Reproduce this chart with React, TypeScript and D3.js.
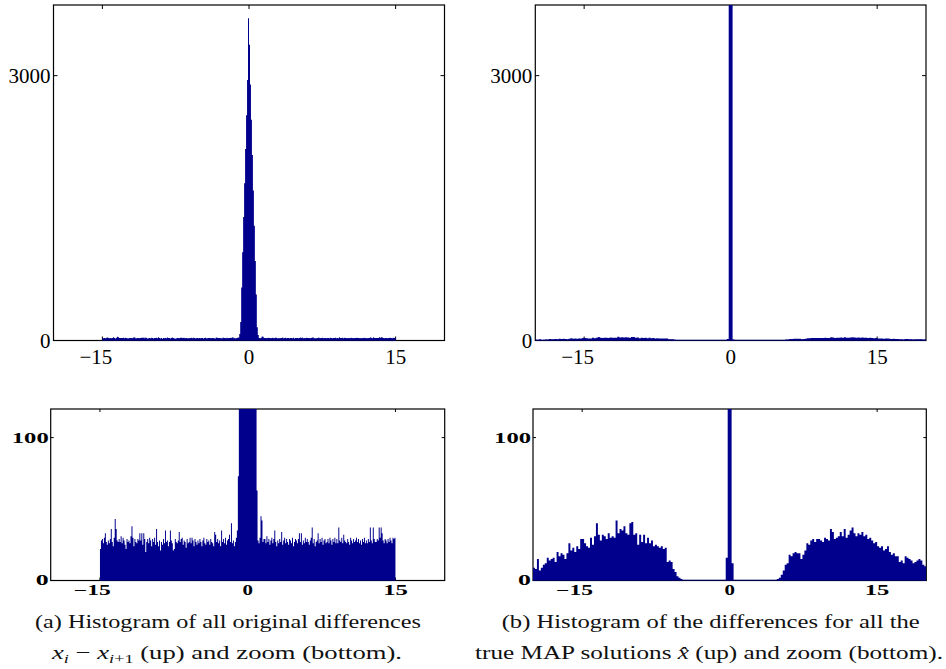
import React from 'react';
import * as d3 from 'd3';

// ---------- data ----------
// (a) original differences: bins of width 0.1 from -15 to 15
const binStartA = -15;
const binWidthA = 0.1;
const countsA: number[] = [
  22, 28, 29, 26, 30, 33, 27, 25, 28, 26,
  29, 36, 27, 24, 30, 43, 36, 28, 27, 29,
  27, 31, 26, 30, 28, 25, 22, 29, 27, 28,
  26, 31, 38, 30, 24, 29, 27, 26, 29, 28,
  33, 28, 33, 25, 33, 29, 20, 27, 29, 26,
  30, 28, 24, 29, 27, 30, 25, 36, 27, 24,
  28, 21, 27, 25, 29, 26, 35, 27, 28, 24,
  27, 35, 28, 26, 21, 22, 29, 27, 26, 28,
  34, 27, 29, 30, 25, 28, 27, 23, 29, 26,
  27, 30, 26, 30, 28, 24, 29, 27, 25, 28,
  26, 29, 27, 24, 28, 30, 26, 25, 29, 27,
  28, 25, 29, 27, 26, 24, 34, 32, 27, 29,
  26, 28, 24, 35, 27, 29, 26, 30, 25, 28,
  29, 32, 27, 40, 26, 28, 24, 27, 30, 35,
  73, 210, 600, 1000, 1400, 1780, 2170, 2550, 2950, 3650,
  3350, 2900, 2500, 2100, 1700, 1300, 900, 520, 150, 63,
  28, 26, 30, 45, 42, 27, 29, 29, 26, 31,
  27, 29, 25, 28, 30, 26, 29, 35, 27, 24,
  28, 26, 29, 27, 34, 25, 28, 30, 26, 29,
  27, 25, 29, 28, 26, 30, 24, 27, 29, 28,
  26, 29, 33, 27, 33, 25, 28, 26, 30, 27,
  29, 27, 25, 28, 30, 37, 26, 29, 24, 27,
  28, 33, 26, 29, 27, 30, 25, 28, 29, 26,
  27, 29, 26, 30, 28, 25, 29, 27, 30, 26,
  29, 26, 37, 28, 27, 30, 26, 32, 28, 27,
  26, 29, 27, 25, 30, 28, 26, 29, 27, 28,
  30, 27, 29, 26, 28, 25, 29, 27, 30, 26,
  28, 26, 29, 27, 37, 28, 26, 37, 29, 27,
  27, 29, 28, 37, 30, 37, 33, 28, 26, 29,
  28, 26, 29, 27, 30, 28, 26, 30, 29, 30,
];

// (b) MAP solutions: bins of width 0.2 from -20 to 20
const binStartB = -20;
const binWidthB = 0.2;
const countsB: number[] = [
  9, 8, 15, 7, 9,
  11, 12, 16, 14, 15,
  16, 13, 20, 17, 19,
  18, 15, 19, 26, 21,
  23, 20, 24, 22, 29,
  29, 26, 24, 23, 30,
  25, 31, 40, 32, 28,
  32, 31, 29, 33, 30,
  31, 30, 42, 33, 36,
  35, 38, 33, 32, 40,
  41, 32, 33, 25, 32,
  27, 32, 26, 30, 26,
  28, 24, 25, 24, 23,
  24, 22, 23, 13, 14,
  13, 8, 6, 3, 2,
  1, 0, 0, 0, 0,
  0, 0, 0, 0, 0,
  0, 0, 0, 0, 0,
  0, 0, 0, 0, 0,
  0, 0, 0, 16, 12000,
  11500, 12, 0, 0, 0,
  0, 0, 0, 0, 0,
  0, 0, 0, 0, 0,
  0, 0, 0, 0, 0,
  0, 0, 0, 0, 1,
  2, 4, 7, 11, 12,
  18, 17, 19, 20, 19,
  19, 15, 18, 21, 26,
  25, 28, 29, 27, 29,
  29, 28, 27, 30, 29,
  28, 36, 34, 29, 30,
  31, 34, 31, 36, 30,
  32, 35, 37, 33, 31,
  33, 32, 34, 31, 32,
  29, 30, 28, 26, 27,
  24, 23, 24, 21, 22,
  24, 20, 18, 19, 17,
  17, 13, 14, 12, 17,
  16, 15, 14, 12, 13,
  14, 15, 14, 11, 10,
];

const xDomain: [number, number] = [-20, 20];
const xTicks = [-15, 0, 15];
const xTickLabels = ['\u221215', '0', '15'];
const topYMax = 3800;
const topYTicks = [0, 3000];
const topYTickLabels = ['0', '3000'];
const zoomYMax = 120;
const zoomYTicks = [0, 100];
const zoomYTickLabels = ['0', '100'];

const BAR = '#00008c';

type PanelProps = {
  id: string;
  left: number;
  right: number;
  top: number;
  bottom: number;
  yMax: number;
  yTicks: number[];
  yLabels: string[];
  counts: number[];
  start: number;
  width: number;
  zoom: boolean;
};

function Panel({ id, left, right, top, bottom, yMax, yTicks, yLabels, counts, start, width, zoom }: PanelProps) {
  const x = d3.scaleLinear().domain(xDomain).range([left, right]);
  const y = d3.scaleLinear().domain([0, yMax]).range([bottom, top]);
  const pts: [number, number][] = counts.map((c, i) => [start + i * width, c]);
  const end = start + counts.length * width;
  pts.push([end, counts[counts.length - 1]]);
  const area = d3
    .area<[number, number]>()
    .x((d) => x(d[0]))
    .y0(y(0))
    .y1((d) => y(d[1]))
    .curve(d3.curveStepAfter);
  const tl = zoom ? 3 : 4;
  const font = zoom
    ? { fontFamily: 'Liberation Serif', fontWeight: 700, fontSize: 14 }
    : { fontFamily: 'Liberation Serif', fontSize: 21 };
  const charW = 12.3;
  return (
    <g>
      <defs>
        <clipPath id={id}>
          <rect x={left} y={top} width={right - left} height={bottom - top} />
        </clipPath>
      </defs>
      <rect x={left} y={top} width={right - left} height={bottom - top} fill="white" stroke="black" strokeWidth={1.2} />
      {xTicks.map((t) => (
        <g key={'xt' + t}>
          <line x1={x(t)} x2={x(t)} y1={top} y2={top + tl} stroke="black" strokeWidth={1} />
          <line x1={x(t)} x2={x(t)} y1={bottom} y2={bottom - tl} stroke="black" strokeWidth={1} />
        </g>
      ))}
      {yTicks.map((t) => (
        <g key={'yt' + t}>
          <line x1={left} x2={left + tl} y1={y(t)} y2={y(t)} stroke="black" strokeWidth={1} />
          <line x1={right} x2={right - tl} y1={y(t)} y2={y(t)} stroke="black" strokeWidth={1} />
        </g>
      ))}
      <path d={area(pts) || ''} fill={BAR} clipPath={`url(#${id})`} />
      <line x1={x(start)} x2={x(end)} y1={y(0)} y2={y(0)} stroke={BAR} strokeWidth={1.6} clipPath={`url(#${id})`} />
      {xTicks.map((t, i) => {
        const lab = xTickLabels[i];
        const neg = lab.startsWith('\u2212');
        const off = neg ? (zoom ? -7.5 : -6.5) : 0;
        return zoom ? (
          <text
            key={'xl' + t}
            x={x(t) + off}
            y={bottom + 14.5}
            textAnchor="middle"
            textLength={charW * lab.length * (lab === '0' ? 0.85 : 1)}
            lengthAdjust="spacingAndGlyphs"
            {...font}
          >
            {lab}
          </text>
        ) : (
          <text key={'xl' + t} x={x(t) + off} y={bottom + 23.5} textAnchor="middle" {...font}>
            {lab}
          </text>
        );
      })}
      {yTicks.map((t, i) => {
        const lab = yLabels[i];
        return zoom ? (
          <text
            key={'yl' + t}
            x={left - 2}
            y={y(t) + (t === 0 ? 4.5 : 5)}
            textAnchor="end"
            textLength={charW * lab.length * (lab === '0' ? 1.05 : 1)}
            lengthAdjust="spacingAndGlyphs"
            {...font}
          >
            {lab}
          </text>
        ) : (
          <text key={'yl' + t} x={left - 3} y={y(t) + 7.5} textAnchor="end" {...font}>
            {lab}
          </text>
        );
      })}
    </g>
  );
}

export default function App() {
  const cap = { fontFamily: 'Liberation Serif', fontSize: 19, fill: '#111' };
  return (
    <svg
      width={946}
      height={669}
      viewBox="0 0 946 669"
      style={{ position: 'absolute', left: 0, top: 0, background: 'white' }}
    >
      <rect x={0} y={0} width={946} height={669} fill="white" />
      <Panel id="pa" left={53.5} right={444.5} top={5} bottom={340.5} yMax={topYMax} yTicks={topYTicks}
        yLabels={topYTickLabels} counts={countsA} start={binStartA} width={binWidthA} zoom={false} />
      <Panel id="pb" left={535.3} right={926} top={5} bottom={340.5} yMax={topYMax} yTicks={topYTicks}
        yLabels={topYTickLabels} counts={countsB} start={binStartB} width={binWidthB} zoom={false} />
      <Panel id="pc" left={50.7} right={444.7} top={409} bottom={580.5} yMax={zoomYMax} yTicks={zoomYTicks}
        yLabels={zoomYTickLabels} counts={countsA} start={binStartA} width={binWidthA} zoom={true} />
      <Panel id="pd" left={533} right={926.3} top={409} bottom={580.5} yMax={zoomYMax} yTicks={zoomYTicks}
        yLabels={zoomYTickLabels} counts={countsB} start={binStartB} width={binWidthB} zoom={true} />

      <text x={35} y={628} textLength={386} lengthAdjust="spacingAndGlyphs" {...cap}>
        (a) Histogram of all original differences
      </text>
      <text x={52} y={659} textLength={350} lengthAdjust="spacingAndGlyphs" {...cap}>
        <tspan fontStyle="italic">x</tspan>
        <tspan fontStyle="italic" fontSize={13} dy={4}>i</tspan>
        <tspan dy={-4}>{' \u2212 '}</tspan>
        <tspan fontStyle="italic">x</tspan>
        <tspan fontStyle="italic" fontSize={13} dy={4}>i</tspan>
        <tspan fontSize={13}>+1</tspan>
        <tspan dy={-4}>{' (up) and zoom (bottom).'}</tspan>
      </text>
      <text x={501.7} y={628} textLength={418} lengthAdjust="spacingAndGlyphs" {...cap}>
        (b) Histogram of the differences for all the
      </text>
      <text x={475} y={659} textLength={468} lengthAdjust="spacingAndGlyphs" {...cap}>
        <tspan>{'true MAP solutions '}</tspan>
        <tspan fontStyle="italic">{'x\u0302'}</tspan>
        <tspan>{' (up) and zoom (bottom).'}</tspan>
      </text>
    </svg>
  );
}
